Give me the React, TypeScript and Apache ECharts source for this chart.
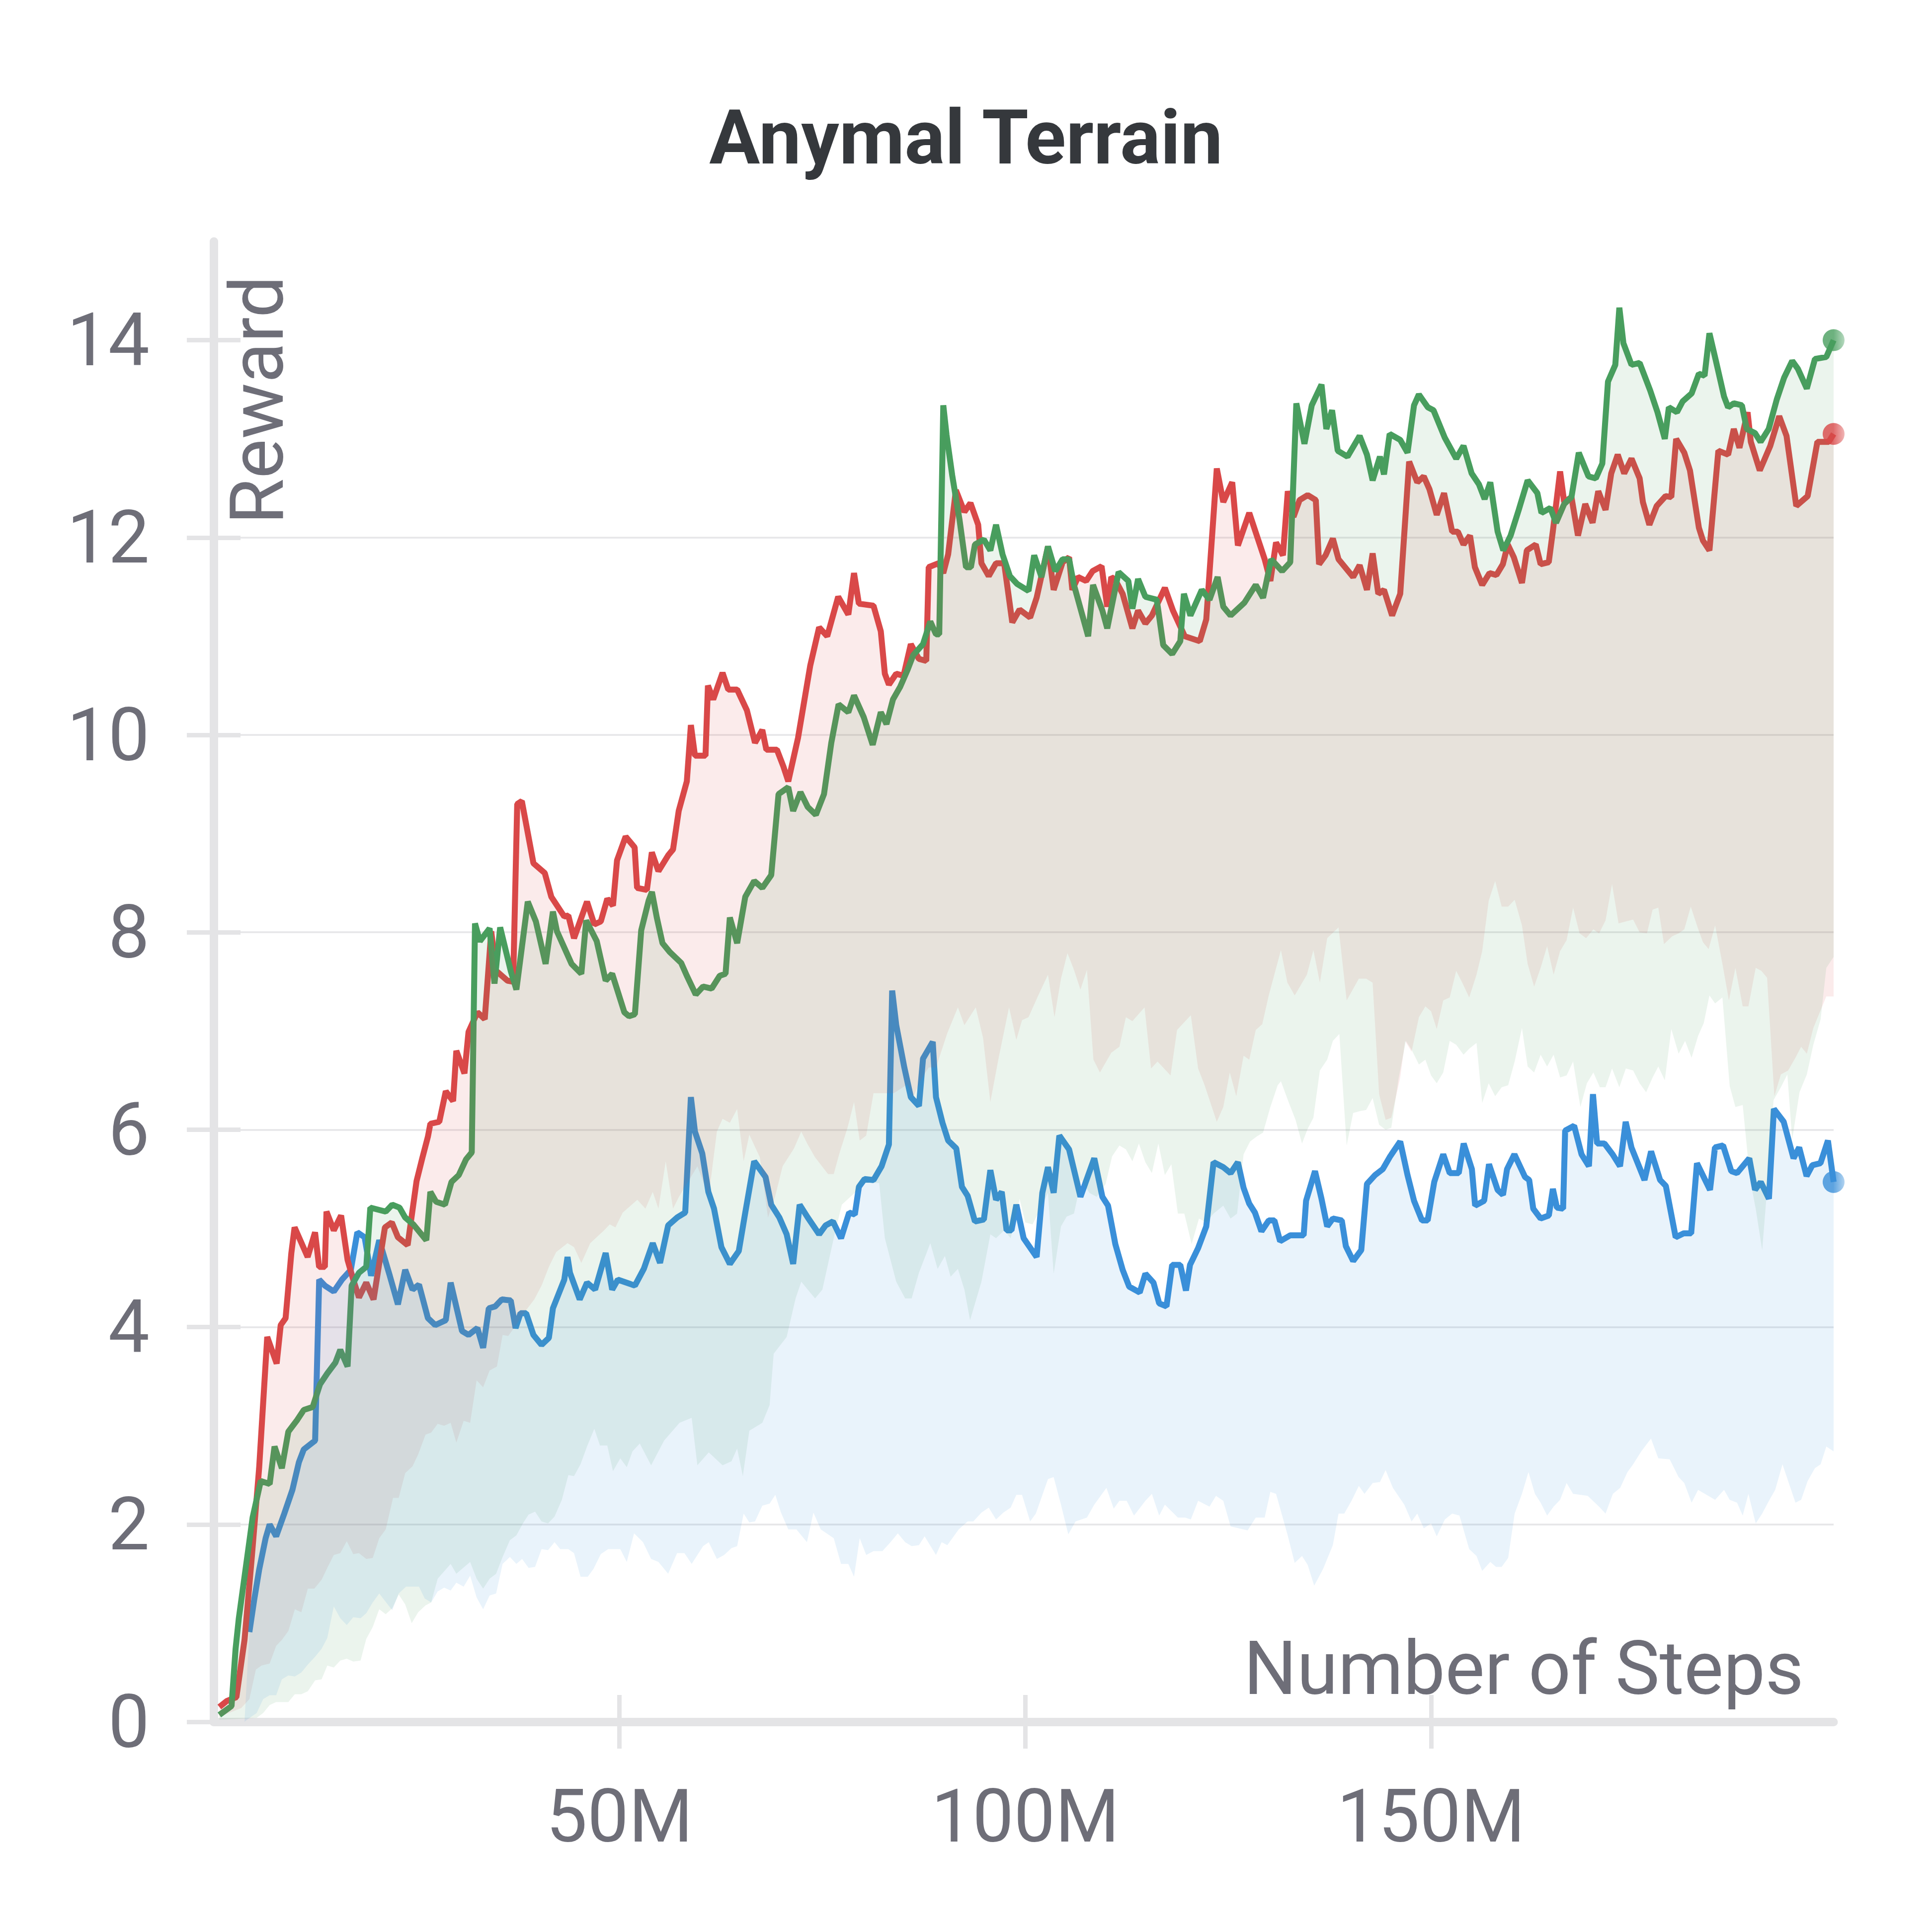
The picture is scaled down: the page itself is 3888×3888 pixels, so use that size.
import React, { useEffect, useRef } from 'react';
import * as echarts from 'echarts';

const RED = '#D94848';
const GREEN = '#489E5E';
const BLUE = '#3A8FD9';
const AXIS = '#E4E4E6';
const GRIDLINE = '#E6E6E8';
const LABEL = '#6E6E78';
const TITLE = '#35383C';
const FONT = 'Roboto, "Noto Sans", sans-serif';

const X_MAX = 199.6;
const xTicks = [50, 100, 150];
const yTicks = [0, 2, 4, 6, 8, 10, 12, 14];

const redLine = [
  [0.7,0.15],[1.6,0.21],[2.8,0.25],[3.8,0.83],[4.7,1.67],[5.6,2.57],[6.6,3.9],[7.76,3.63],[8.26,4.02],[8.86,4.09],[9.57,4.75],[9.97,5.01],[11.58,4.71],[12.49,4.96],[12.99,4.61],[13.7,4.61],[13.9,5.17],[14.8,4.98],[15.7,5.13],[16.5,4.68],[17.2,4.48],[17.9,4.3],[18.8,4.45],[19.7,4.28],[21.1,5.01],[21.95,5.06],[22.7,4.91],[23.9,4.83],[25.0,5.48],[25.7,5.71],[26.4,5.93],[26.7,6.06],[27.8,6.08],[28.6,6.39],[29.5,6.29],[29.9,6.8],[30.9,6.57],[31.4,6.99],[32.5,7.19],[33.4,7.12],[34.2,8.01],[34.8,7.61],[36.2,7.51],[36.9,7.5],[37.4,9.3],[37.97,9.33],[39.4,8.7],[40.8,8.6],[41.6,8.36],[43.2,8.16],[43.7,8.17],[44.4,7.94],[46.0,8.31],[46.9,8.08],[47.7,8.11],[48.5,8.34],[49.2,8.27],[49.7,8.73],[50.76,8.97],[51.87,8.86],[52.17,8.45],[53.38,8.43],[53.99,8.81],[54.8,8.62],[56.0,8.78],[56.6,8.84],[57.3,9.23],[58.3,9.53],[58.8,10.1],[59.3,9.79],[60.6,9.79],[60.9,10.5],[61.55,10.36],[62.7,10.63],[63.4,10.46],[64.5,10.46],[65.7,10.25],[66.7,9.92],[67.6,10.05],[68.1,9.85],[69.4,9.85],[70.2,9.68],[70.8,9.53],[72.0,9.97],[73.5,10.7],[74.6,11.09],[75.6,11.0],[76.95,11.4],[78.2,11.22],[78.9,11.64],[79.5,11.33],[81.3,11.31],[82.2,11.05],[82.7,10.62],[83.2,10.51],[84.1,10.62],[85.0,10.6],[85.9,10.92],[86.9,10.77],[87.8,10.75],[88.1,11.7],[89.3,11.74],[89.9,11.64],[90.5,11.83],[91.45,12.48],[92.5,12.26],[93.25,12.35],[94.2,12.13],[94.6,11.74],[95.5,11.61],[96.4,11.74],[97.4,11.74],[98.4,11.14],[99.3,11.27],
  [100.6,11.19],[101.4,11.39],[102.8,11.91],[103.5,11.47],[104.6,11.75],[105.4,11.8],[105.8,11.47],[106.5,11.6],[107.5,11.56],[108.3,11.66],[109.4,11.71],[110.1,11.3],[110.6,11.6],[111.1,11.57],[112.0,11.43],[113.2,11.08],[113.9,11.26],[114.8,11.13],[115.6,11.21],[117.2,11.49],[118.2,11.26],[119.65,11.0],[121.5,10.95],[122.3,11.17],[123.6,12.7],[124.4,12.36],[125.5,12.56],[126.2,11.92],[127.6,12.25],[129.5,11.78],[130.2,11.56],[130.9,11.95],[131.75,11.82],[132.35,12.47],[133.05,12.21],[133.8,12.38],[134.8,12.43],[135.8,12.38],[136.2,11.73],[137.0,11.82],[137.9,11.99],[138.6,11.78],[140.4,11.6],[141.2,11.72],[142.1,11.47],[142.8,11.84],[143.5,11.43],[144.2,11.47],[145.2,11.21],[146.2,11.43],[147.3,12.77],[148.3,12.56],
  [149.1,12.62],[149.8,12.49],[150.7,12.23],[151.6,12.45],[152.6,12.06],[153.3,12.06],[154.0,11.93],[154.8,12.02],[155.4,11.7],[156.3,11.52],[157.2,11.64],[158.05,11.62],[158.85,11.73],[159.45,11.93],[160.2,11.8],[161.2,11.54],[161.8,11.87],[162.9,11.93],[163.5,11.73],[164.5,11.75],[165.0,12.06],[165.9,12.67],[166.4,12.36],[167.3,12.41],[168.1,12.02],[169.0,12.34],[169.9,12.15],[170.6,12.47],[171.5,12.28],[172.2,12.65],[173.0,12.84],[173.8,12.65],[174.7,12.8],[175.7,12.6],[176.1,12.36],[176.9,12.13],[177.8,12.32],[178.9,12.42],[179.6,12.41],[180.2,13.0],[181.2,12.86],[181.9,12.68],[183.0,12.1],[183.5,11.97],[184.3,11.87],[185.4,12.88],[186.6,12.84],[187.3,13.1],[188.0,12.91],[189.0,13.27],[189.4,12.97],[190.5,12.68],[191.8,12.93],[192.9,13.23],[193.8,13.03],[195.0,12.32],[196.4,12.42],[197.6,12.97],[199.0,12.97],[199.6,13.05]
];

const greenLine = [
  [0.7,0.07],[2.2,0.16],[2.7,0.74],[3.1,1.05],[4.8,2.07],[5.8,2.44],[6.9,2.41],[7.5,2.79],[8.4,2.57],[9.2,2.94],[10.3,3.06],[11.1,3.16],[12.2,3.19],[13.1,3.42],[14.0,3.53],[15.0,3.64],[15.6,3.77],[16.5,3.6],[17.0,4.42],[17.9,4.55],[18.8,4.61],[19.3,5.21],[21.2,5.17],[22.0,5.24],[22.9,5.21],[23.6,5.11],[24.6,5.04],[26.2,4.88],[26.7,5.37],[27.4,5.27],[28.5,5.24],[29.3,5.47],[30.2,5.54],[31.1,5.7],[31.8,5.77],[32.2,8.09],[32.8,7.91],[34.0,8.04],[34.6,7.48],[35.3,8.05],[36.6,7.61],[37.3,7.42],[38.7,8.31],[39.7,8.11],[40.9,7.68],[41.8,8.21],[42.3,8.01],[44.1,7.68],[45.3,7.58],[45.9,8.12],[47.2,7.91],[48.3,7.51],[49.1,7.58],[50.6,7.19],[51.17,7.15],[51.9,7.17],[52.68,8.02],[53.59,8.32],[54.0,8.41],[54.6,8.15],[55.3,7.89],[56.2,7.8],[57.6,7.69],[58.3,7.56],[59.4,7.37],[60.3,7.45],[61.35,7.43],[62.36,7.56],[63.07,7.58],[63.6,8.15],[64.5,7.89],[65.5,8.36],[66.6,8.52],[67.6,8.45],[68.7,8.58],[69.6,9.4],[70.8,9.47],[71.4,9.23],[72.3,9.42],[73.2,9.27],[74.2,9.19],[75.2,9.4],[76.1,9.92],[77.0,10.31],[78.2,10.23],[78.9,10.4],[80.1,10.18],[81.2,9.9],[82.2,10.23],[82.9,10.11],[83.7,10.36],[84.6,10.49],[85.5,10.66],[86.2,10.81],[87.4,10.92],[88.3,11.15],[89.0,11.02],[89.4,11.02],[89.9,13.34],[90.3,13.04],[91.0,12.63],[91.9,12.18],[92.7,11.7],[93.3,11.7],[93.8,11.93],[94.9,11.98],[95.7,11.87],[96.4,12.13],[97.2,11.83],[98.1,11.61],[99.0,11.53],
  [100.4,11.46],[101.1,11.82],[102.0,11.6],[102.8,11.91],[103.7,11.66],[104.6,11.78],[105.4,11.78],[106.0,11.52],[107.75,11.0],[108.35,11.52],[109.5,11.26],[110.1,11.08],[111.5,11.65],[112.7,11.56],[113.2,11.28],[113.9,11.58],[114.8,11.4],[116.2,11.37],[117.0,10.91],[118.1,10.82],[119.1,10.95],[119.55,11.43],[120.35,11.21],[121.75,11.47],[122.7,11.37],[123.7,11.6],[124.4,11.3],[125.3,11.21],[127.0,11.34],[128.4,11.52],[129.3,11.39],[130.3,11.78],[131.65,11.66],[132.65,11.75],[133.4,13.36],[134.4,12.95],[135.3,13.34],[136.5,13.55],[137.1,13.1],[137.8,13.29],[138.5,12.88],[139.7,12.82],[141.2,13.03],[142.1,12.84],[142.8,12.58],[143.7,12.82],[144.2,12.64],[144.9,13.05],[146.2,12.99],[147.1,12.86],[147.9,13.34],[148.5,13.45],
  [149.6,13.32],[150.3,13.29],[151.7,13.01],[153.1,12.8],[154.0,12.93],[155.0,12.65],[155.9,12.54],[156.6,12.39],[157.3,12.56],[158.2,12.06],[158.9,11.87],[159.8,12.02],[160.8,12.28],[161.9,12.58],[163.1,12.45],[163.6,12.25],[164.7,12.3],[165.4,12.15],[166.4,12.34],[167.3,12.41],[168.2,12.86],[169.4,12.62],[170.3,12.6],[171.1,12.75],[171.8,13.58],[172.7,13.75],[173.2,14.33],[173.7,13.97],[174.7,13.75],[175.7,13.77],[177.0,13.49],[177.9,13.27],[178.8,13.0],[179.3,13.32],[180.3,13.27],[181.0,13.38],[182.1,13.46],[183.0,13.66],[183.7,13.64],[184.3,14.07],[185.1,13.79],[186.1,13.43],[186.6,13.32],[187.3,13.36],[188.3,13.34],[188.9,13.1],[189.9,13.06],[190.6,12.97],[191.6,13.1],[192.6,13.4],[193.5,13.62],[194.5,13.79],[195.2,13.71],[196.3,13.51],[197.3,13.81],[198.7,13.83],[199.6,14.0]
];

const blueLine = [
  [4.4,0.91],[5.0,1.24],[5.6,1.54],[6.4,1.86],[6.9,2.0],[7.7,1.88],[8.7,2.11],[9.7,2.35],[10.5,2.63],[11.1,2.76],[12.5,2.85],[13.0,4.48],[13.7,4.42],[14.8,4.36],[15.8,4.48],[16.9,4.58],[17.7,4.96],[18.6,4.91],[19.4,4.52],[20.4,4.88],[21.7,4.52],[22.7,4.23],[23.6,4.58],[24.5,4.38],[25.3,4.43],[26.4,4.09],[27.3,4.02],[28.6,4.07],[29.2,4.45],[30.6,3.96],[31.4,3.92],[32.5,3.99],[33.2,3.79],[33.9,4.19],[34.7,4.21],[35.5,4.28],[36.6,4.27],[37.2,3.99],[37.8,4.14],[38.5,4.14],[39.4,3.92],[40.4,3.82],[41.3,3.89],[41.8,4.19],[43.2,4.48],[43.6,4.71],[43.9,4.55],[45.1,4.28],[46.0,4.45],[47.0,4.38],[48.3,4.75],[49.1,4.38],[49.8,4.48],[51.9,4.42],[53.0,4.59],[54.1,4.85],[55.0,4.65],[56.0,5.03],[57.1,5.11],[58.1,5.16],[58.8,6.33],[59.3,5.98],[60.2,5.76],[60.95,5.37],[61.65,5.2],[62.56,4.81],[63.6,4.64],[64.7,4.77],[65.5,5.16],[66.6,5.68],[68.0,5.52],[68.7,5.24],[69.7,5.11],[70.6,4.94],[71.4,4.64],[72.2,5.24],[73.2,5.11],[74.6,4.94],[75.4,5.03],[76.3,5.07],[77.3,4.9],[78.3,5.16],[79.0,5.14],[79.5,5.42],[80.2,5.5],[81.3,5.49],[82.3,5.63],[83.2,5.85],[83.6,7.41],[84.1,7.06],[85.1,6.63],[85.9,6.33],[86.9,6.24],[87.4,6.72],[88.6,6.89],[89.0,6.33],[89.8,6.07],[90.5,5.89],[91.5,5.81],[92.2,5.42],[92.9,5.33],[93.8,5.07],[94.9,5.09],[95.7,5.59],[96.4,5.29],[97.1,5.37],[97.7,4.98],[98.3,4.98],[98.9,5.24],[99.8,4.9],
  [101.4,4.71],[102.1,5.36],[102.8,5.62],[103.5,5.36],[104.2,5.94],[105.4,5.8],[106.8,5.32],[108.5,5.71],[109.5,5.32],[110.2,5.23],[111.1,4.84],[112.0,4.58],[112.8,4.41],[114.1,4.35],[114.8,4.54],[115.8,4.45],[116.5,4.24],[117.4,4.21],[118.1,4.63],[119.1,4.63],[119.8,4.37],[120.3,4.63],[121.3,4.8],[122.3,5.02],[123.2,5.67],[124.4,5.62],[125.3,5.56],[126.2,5.67],[126.9,5.41],[127.6,5.25],[128.3,5.16],[129.1,4.97],[130.0,5.08],[130.7,5.08],[131.4,4.87],[132.66,4.93],[133.57,4.93],[134.3,4.93],[134.6,5.28],[135.7,5.58],[136.5,5.3],[137.2,5.02],[137.9,5.1],[139.0,5.08],[139.5,4.82],[140.4,4.67],[141.4,4.78],[142.1,5.45],[143.1,5.54],[144.05,5.6],[144.96,5.73],[146.2,5.88],[147.1,5.54],[147.9,5.28],
  [148.88,5.08],[149.58,5.08],[150.39,5.47],[151.5,5.75],[152.3,5.56],[153.41,5.56],[154.02,5.86],[155.03,5.6],[155.43,5.23],[156.54,5.28],[157.14,5.65],[158.2,5.39],[158.86,5.34],[159.36,5.6],[160.27,5.75],[161.58,5.52],[162.09,5.49],[162.59,5.2],[163.5,5.1],[164.51,5.13],[165.01,5.4],[165.51,5.21],[166.27,5.2],[166.52,5.99],[167.63,6.04],[168.54,5.75],[169.45,5.63],[169.95,6.36],[170.46,5.86],[171.36,5.86],[172.37,5.75],[173.28,5.63],[173.98,6.08],[174.69,5.82],[176.3,5.49],[177.11,5.78],[178.22,5.49],[178.93,5.43],[180.14,4.91],[181.14,4.95],[182.05,4.95],[182.76,5.66],[184.37,5.39],[184.98,5.82],[185.98,5.84],[186.99,5.58],[187.7,5.56],[189.21,5.71],[189.92,5.39],[190.62,5.47],[191.63,5.3],[192.24,6.21],[193.45,6.08],[194.66,5.71],[195.36,5.82],[196.27,5.53],[196.98,5.64],[197.98,5.66],[198.9,5.89],[199.6,5.47]
];

const redLower = [
  [0.7,0.05],[3.4,0.14],[4.4,0.23],[5.2,0.53],[5.9,0.57],[6.9,0.59],[7.7,0.77],[8.4,0.83],[9.2,0.92],[10.0,1.14],[10.8,1.11],[11.6,1.35],[12.4,1.35],[13.3,1.44],[14.0,1.56],[14.8,1.69],[15.6,1.71],[16.4,1.83],[17.2,1.7],[17.9,1.71],[18.8,1.65],[19.6,1.66],[20.4,1.86],[21.2,1.95],[22.1,2.27],[22.8,2.27],[23.6,2.52],[24.5,2.59],[25.2,2.71],[26.1,2.91],[26.8,2.93],[27.6,3.02],[28.4,3.0],[29.2,3.03],[29.9,2.83],[30.8,3.05],[31.6,3.03],[32.4,3.46],[33.2,3.39],[34.0,3.56],[34.9,3.6],[35.6,3.92],[36.3,3.91],[37.0,3.99],[38.3,4.15],[39.5,4.28],[40.4,4.42],[41.3,4.61],[42.2,4.76],[43.6,4.85],[44.4,4.81],[45.3,4.65],[46.4,4.85],[48.1,4.98],[48.8,5.04],[49.5,5.01],[50.4,5.16],[52.2,5.29],[53.2,5.2],[54.1,5.37],[54.8,5.2],[55.7,5.68],[56.6,5.2],[57.4,5.33],[59.6,5.63],[61.0,5.33],[62.0,5.98],[62.7,6.11],[63.6,6.07],[64.5,6.21],[65.3,5.68],[66.0,5.95],[67.3,5.72],[68.3,5.11],[69.2,5.33],[70.1,5.63],[71.5,5.81],[72.4,5.98],[73.2,5.85],[74.1,5.72],[75.7,5.55],[76.4,5.55],[77.1,5.76],[78.1,6.02],[78.9,6.28],[79.6,5.89],[80.4,5.94],[81.3,6.37],[82.4,6.37],[83.8,6.37],[85.5,6.46],[86.2,6.33],[87.1,6.5],[88.1,6.63],[89.0,6.63],[90.4,6.98],[91.7,7.24],[92.5,7.06],[93.9,7.24],[94.8,6.93],[95.7,6.28],[96.7,6.72],[98.0,7.24],[98.9,6.91],[99.6,7.11],[100.4,7.14],[101.6,7.36],[102.8,7.57],[103.6,7.14],[104.4,7.53],[105.2,7.79],[106.0,7.62],[106.8,7.42],[107.6,7.62],[108.4,6.71],[109.2,6.58],[110.6,6.78],[111.6,6.84],[112.4,7.14],[113.2,7.1],[114.7,7.24],[115.5,6.62],[116.3,6.69],[117.9,6.55],[118.7,7.01],[120.4,7.16],[121.3,6.62],[122.1,6.45],[123.6,6.08],[124.4,6.23],[125.2,6.58],[126.0,6.34],[126.9,6.75],[127.6,6.71],[128.4,7.01],[129.2,7.07],[130.0,7.36],[131.5,7.82],[132.3,7.49],[133.2,7.36],[134.7,7.57],[135.5,7.82],[136.3,7.49],[137.2,7.94],[138.6,8.05],[139.6,7.31],[141.1,7.53],[142.0,7.53],[142.8,7.49],[143.6,6.36],[144.4,6.1],[145.1,6.12],[146.2,6.53],[146.8,6.9],[147.6,6.79],[148.5,7.14],[149.3,7.25],[150.0,7.2],[150.7,7.02],[151.5,7.31],[152.3,7.34],[153.1,7.61],[153.9,7.48],[154.7,7.34],[155.6,7.57],[156.3,7.81],[157.1,8.32],[157.9,8.52],[158.7,8.26],[159.5,8.26],[160.3,8.33],[161.2,8.07],[161.9,7.68],[162.7,7.45],[163.5,7.64],[164.3,7.86],[165.1,7.57],[165.9,7.81],[166.7,7.92],[167.5,8.25],[168.3,7.99],[169.1,7.94],[170.0,8.03],[170.7,7.99],[171.5,8.12],[172.3,8.49],[173.1,8.09],[174.9,8.13],[175.7,8.0],[176.6,7.99],[177.3,8.23],[178.0,8.25],[178.7,7.88],[179.7,7.96],[180.5,7.99],[181.2,8.03],[182.0,8.26],[182.8,8.06],[183.5,7.9],[184.2,7.83],[185.0,8.07],[185.9,7.68],[186.7,7.31],[187.5,7.64],[188.4,7.25],[189.1,7.25],[190.0,7.64],[190.7,7.61],[191.4,7.54],[192.3,6.34],[193.1,6.56],[194.0,6.6],[194.9,6.73],[195.6,6.84],[196.3,6.77],[197.1,7.03],[198.0,7.21],[198.7,7.35],[199.6,7.35]
];

const greenLower = [
  [0.7,0.02],[5.3,0.04],[6.1,0.09],[6.9,0.17],[7.7,0.2],[9.2,0.2],[10.0,0.28],[10.8,0.28],[11.6,0.31],[12.5,0.42],[13.3,0.43],[14.0,0.57],[14.8,0.55],[15.6,0.62],[16.4,0.64],[17.2,0.61],[18.1,0.62],[18.8,0.84],[19.6,0.96],[20.4,1.14],[21.2,1.09],[22.0,1.15],[22.8,1.29],[23.6,1.19],[24.4,1.0],[25.2,1.11],[26.1,1.18],[26.8,1.21],[27.6,1.45],[29.2,1.6],[29.9,1.5],[31.6,1.62],[32.4,1.45],[33.2,1.35],[34.0,1.45],[34.8,1.5],[35.6,1.67],[36.5,1.84],[37.3,1.89],[38.1,2.01],[38.8,2.1],[39.6,2.13],[40.4,2.03],[41.2,2.01],[42.0,2.08],[42.9,2.25],[43.7,2.5],[44.4,2.49],[45.2,2.61],[46.0,2.79],[46.9,2.97],[47.6,2.8],[48.5,2.8],[49.2,2.54],[50.1,2.67],[50.9,2.58],[51.6,2.74],[52.5,2.82],[53.9,2.6],[55.5,2.85],[57.4,3.03],[58.9,3.08],[59.6,2.6],[61.0,2.73],[62.7,2.6],[63.8,2.64],[64.5,2.77],[65.2,2.49],[66.0,2.95],[67.6,3.03],[68.5,3.21],[69.0,3.73],[70.6,3.9],[71.7,4.29],[72.4,4.46],[73.2,4.38],[74.1,4.29],[75.0,4.38],[76.4,4.9],[77.4,5.24],[80.3,5.46],[82.0,5.46],[82.7,4.9],[84.1,4.46],[85.2,4.29],[86.0,4.29],[86.9,4.55],[88.3,4.85],[89.2,4.59],[90.1,4.72],[90.8,4.51],[91.7,4.59],[92.5,4.38],[93.2,4.07],[94.6,4.46],[95.7,4.94],[96.4,4.9],[97.4,4.98],[98.2,4.9],[99.3,5.3],[100.0,5.06],[100.9,5.04],[102.8,5.36],[103.5,4.54],[104.4,5.02],[105.1,5.12],[106.0,5.15],[106.9,5.49],[107.9,5.36],[108.8,5.32],[109.9,5.45],[110.7,5.73],[111.6,5.84],[112.4,5.8],[113.2,5.68],[114.0,5.86],[114.8,5.67],[115.6,5.56],[116.4,5.86],[117.2,5.54],[118.0,5.65],[118.8,5.15],[119.6,5.15],[120.5,4.84],[121.4,5.1],[122.3,5.06],[123.2,5.15],[124.4,5.23],[125.3,5.1],[126.1,5.15],[126.9,5.75],[127.7,5.88],[128.5,5.93],[129.3,5.97],[130.2,6.23],[131.1,6.45],[131.5,6.49],[132.4,6.29],[133.3,6.1],[134.1,5.86],[134.8,6.01],[135.5,6.12],[136.3,6.6],[137.2,6.71],[137.9,6.9],[138.7,6.97],[139.6,5.84],[140.4,6.17],[141.3,6.19],[142.0,6.2],[142.8,6.32],[143.6,6.05],[144.4,6.0],[145.1,6.02],[146.0,6.52],[146.9,6.9],[147.6,6.81],[148.5,6.66],[149.3,6.71],[150.0,6.55],[150.7,6.47],[151.5,6.58],[152.3,6.9],[153.1,6.86],[154.0,6.76],[154.7,6.82],[155.6,6.88],[156.3,6.27],[157.1,6.47],[157.9,6.34],[158.7,6.43],[159.5,6.45],[160.3,6.69],[161.2,7.03],[161.9,6.64],[162.7,6.58],[163.5,6.76],[164.3,6.64],[165.1,6.76],[165.9,6.53],[166.7,6.55],[167.5,6.69],[168.4,6.23],[169.2,6.47],[170.0,6.58],[170.8,6.43],[171.5,6.43],[172.3,6.62],[173.2,6.43],[174.0,6.62],[174.9,6.6],[175.7,6.47],[176.5,6.38],[177.3,6.53],[178.0,6.64],[178.8,6.5],[179.6,7.02],[180.5,6.77],[181.3,6.9],[182.1,6.73],[182.9,6.95],[183.6,7.08],[184.3,7.36],[185.0,7.28],[185.9,7.34],[186.8,6.44],[187.5,6.23],[188.4,6.25],[189.3,5.5],[190.0,5.2],[190.8,4.78],[191.6,5.6],[192.2,6.3],[193.1,6.43],[193.9,6.56],[194.5,5.9],[195.4,6.38],[196.3,6.56],[197.1,6.86],[198.0,7.12],[198.7,7.64],[199.6,7.75]
];

const blueLower = [
  [3.8,0.0],[4.1,0.02],[5.3,0.09],[6.1,0.23],[6.9,0.27],[7.7,0.27],[8.4,0.43],[9.2,0.47],[10.0,0.46],[10.8,0.5],[11.6,0.58],[12.5,0.66],[13.3,0.74],[14.0,0.85],[14.8,1.17],[15.6,1.05],[16.4,0.98],[17.2,1.06],[18.1,1.05],[18.8,1.1],[19.6,1.21],[20.4,1.3],[22.0,1.13],[22.8,1.3],[23.7,1.37],[24.5,1.37],[25.3,1.37],[26.0,1.25],[26.8,1.21],[27.6,1.32],[28.4,1.36],[29.2,1.33],[29.9,1.41],[30.8,1.37],[31.6,1.48],[32.4,1.26],[33.2,1.14],[34.0,1.28],[34.8,1.3],[35.6,1.6],[36.5,1.67],[37.3,1.6],[38.0,1.65],[38.8,1.56],[39.6,1.57],[40.4,1.75],[41.2,1.74],[42.0,1.82],[42.7,1.75],[43.7,1.75],[44.4,1.71],[45.2,1.47],[46.1,1.47],[46.8,1.55],[47.7,1.7],[48.6,1.75],[50.1,1.75],[50.9,1.62],[51.8,1.91],[52.9,1.82],[53.9,1.65],[54.8,1.62],[56.0,1.5],[57.1,1.71],[58.0,1.71],[58.9,1.6],[60.3,1.78],[61.0,1.82],[62.0,1.65],[62.9,1.69],[63.8,1.76],[64.5,1.78],[65.3,2.11],[66.0,2.02],[66.7,2.03],[67.6,2.19],[68.5,2.21],[69.2,2.3],[69.9,2.12],[70.8,1.95],[71.8,1.95],[73.1,1.82],[73.9,2.12],[74.8,1.95],[76.4,1.86],[77.3,1.6],[78.2,1.6],[78.9,1.47],[79.6,1.86],[80.4,1.69],[81.3,1.73],[82.4,1.73],[83.4,1.82],[84.3,1.91],[85.2,1.82],[86.0,1.78],[86.9,1.79],[87.6,1.88],[89.0,1.69],[89.7,1.82],[90.4,1.79],[91.8,1.95],[92.9,2.03],[93.6,2.03],[94.6,2.12],[95.5,2.17],[96.4,2.05],[97.3,2.12],[98.2,2.17],[98.9,2.3],[99.6,2.3],[100.6,2.03],[101.3,2.11],[102.8,2.46],[103.5,2.48],[104.4,2.2],[105.3,1.9],[106.2,2.03],[107.6,2.07],[108.5,2.2],[110.0,2.37],[110.9,2.16],[111.6,2.24],[112.5,2.24],[113.4,2.09],[114.8,2.24],[115.6,2.31],[116.5,2.09],[117.2,2.2],[118.8,2.07],[119.7,2.07],[120.4,2.05],[121.3,2.24],[122.7,2.18],[123.5,2.29],[124.4,2.24],[125.3,1.98],[127.4,1.94],[128.4,2.07],[129.5,2.07],[130.2,2.33],[130.9,2.31],[132.3,1.9],[133.2,1.61],[134.1,1.68],[134.8,1.59],[135.6,1.38],[136.7,1.55],[137.9,1.79],[138.6,2.11],[139.3,2.11],[140.2,2.24],[141.1,2.39],[141.8,2.31],[142.8,2.42],[143.7,2.43],[144.4,2.55],[145.3,2.37],[146.7,2.2],[147.6,2.03],[148.3,2.11],[149.1,1.96],[150.0,2.01],[150.7,1.88],[151.7,2.05],[152.6,2.11],[153.5,2.09],[154.7,1.75],[155.6,1.68],[156.3,1.53],[157.3,1.62],[158.0,1.57],[158.7,1.57],[159.5,1.66],[160.3,2.11],[161.2,2.31],[162.0,2.53],[162.8,2.31],[163.5,2.22],[164.3,2.09],[165.1,2.18],[165.9,2.25],[166.7,2.42],[167.5,2.31],[169.3,2.29],[170.7,2.18],[171.5,2.11],[172.4,2.31],[173.3,2.37],[174.2,2.53],[174.9,2.61],[175.9,2.74],[177.1,2.87],[178.0,2.67],[179.4,2.66],[180.5,2.48],[181.2,2.42],[182.1,2.22],[182.9,2.35],[185.0,2.25],[186.1,2.35],[186.8,2.25],[187.7,2.22],[188.4,2.09],[189.1,2.31],[190.0,2.01],[190.8,2.11],[191.7,2.25],[192.4,2.35],[193.3,2.61],[194.2,2.39],[194.9,2.22],[195.6,2.25],[196.4,2.44],[197.3,2.57],[198.0,2.61],[198.7,2.79],[199.6,2.74]
];

function rgba(hex: string, a: number) {
  const n = parseInt(hex.slice(1), 16);
  return `rgba(${(n >> 16) & 255},${(n >> 8) & 255},${n & 255},${a})`;
}

function bandSeries(upper: number[][], lower: number[][], color: string) {
  return {
    type: 'custom',
    data: upper,
    encode: { x: 0, y: 1 },
    z: 3,
    silent: true,
    clip: true,
    renderItem: (params: any, api: any) => {
      if (params.dataIndex !== 0) return null;
      const pts: number[][] = [];
      for (let i = 0; i < upper.length; i++) pts.push(api.coord(upper[i]));
      for (let i = lower.length - 1; i >= 0; i--) pts.push(api.coord(lower[i]));
      return {
        type: 'polygon',
        shape: { points: pts },
        style: { fill: rgba(color, 0.11), stroke: null },
        silent: true,
      };
    },
  };
}

function lineSeries(data: number[][], color: string) {
  return {
    type: 'line',
    data,
    showSymbol: false,
    symbol: 'none',
    z: 2,
    silent: true,
    lineStyle: { color, width: 12 },
  };
}

function marker(data: number[][], color: string) {
  return {
    value: data[data.length - 1],
    itemStyle: {
      color: new echarts.graphic.LinearGradient(0, 0, 1, 0, [
        { offset: 0, color },
        { offset: 0.5, color },
        { offset: 1, color: rgba(color, 0.5) },
      ]),
    },
  };
}

export default function App() {
  const ref = useRef<HTMLDivElement>(null);
  useEffect(() => {
    document.body.style.margin = '0';
    const chart = echarts.init(ref.current as HTMLDivElement, null, { renderer: 'svg' });
    const axisTickStyle = { color: AXIS, width: 9 };
    const option = {
      animation: false,
      backgroundColor: '#FFFFFF',
      title: {
        text: 'Anymal Terrain',
        left: 'center',
        top: 196,
        textStyle: { fontSize: 152, fontWeight: 'bold', color: TITLE, fontFamily: FONT },
      },
      grid: { left: 430, right: 198, top: 486, bottom: 423, containLabel: false },
      xAxis: [
        {
          type: 'value', min: 0, max: X_MAX, position: 'bottom',
          axisLine: { show: true, onZero: false, lineStyle: { color: AXIS, width: 17 } },
          axisTick: { show: true, length: 54, lineStyle: axisTickStyle, customValues: xTicks },
          axisLabel: { customValues: xTicks, formatter: (v: number) => v + 'M', color: LABEL, fontSize: 148, fontFamily: FONT, margin: 116 },
          splitLine: { show: false },
        },
        {
          type: 'value', min: 0, max: X_MAX, position: 'bottom',
          axisLine: { show: false },
          axisTick: { show: true, inside: true, length: 54, lineStyle: axisTickStyle, customValues: xTicks },
          axisLabel: { show: false },
          splitLine: { show: false },
        },
      ],
      yAxis: [
        {
          type: 'value', min: 0, max: 15, interval: 2, position: 'left',
          axisLine: { show: true, onZero: false, lineStyle: { color: AXIS, width: 17 } },
          axisTick: { show: true, length: 54, lineStyle: axisTickStyle, customValues: yTicks },
          axisLabel: { customValues: yTicks, color: LABEL, fontSize: 148, fontFamily: FONT, margin: 129 },
          splitLine: { show: true, showMaxLine: false, lineStyle: { color: GRIDLINE, width: 3.5 } },
        },
        {
          type: 'value', min: 0, max: 15, interval: 2, position: 'left',
          axisLine: { show: false },
          axisTick: { show: true, inside: true, length: 54, lineStyle: axisTickStyle, customValues: yTicks },
          axisLabel: { show: false },
          splitLine: { show: false },
        },
      ],
      graphic: [
        {
          type: 'text', x: 518, y: 555, rotation: Math.PI / 2, silent: true,
          style: { text: 'Reward', fill: LABEL, font: `150px ${FONT}`, align: 'right', verticalAlign: 'middle', textAlign: 'right', textVerticalAlign: 'middle' },
        },
        {
          type: 'text', x: 3630, y: 3358, silent: true,
          style: { text: 'Number of Steps', fill: LABEL, font: `150px ${FONT}`, align: 'right', verticalAlign: 'middle', textAlign: 'right', textVerticalAlign: 'middle' },
        },
      ],
      series: [
        lineSeries(blueLine, BLUE),
        lineSeries(redLine, RED),
        lineSeries(greenLine, GREEN),
        bandSeries(redLine, redLower, RED),
        bandSeries(greenLine, greenLower, GREEN),
        bandSeries(blueLine, blueLower, BLUE),
        {
          type: 'scatter',
          symbol: 'circle',
          symbolSize: 44,
          z: 10,
          silent: true,
          data: [marker(greenLine, GREEN), marker(redLine, RED), marker(blueLine, BLUE)],
        },
      ],
    };
    chart.setOption(option as any);
    return () => chart.dispose();
  }, []);
  return <div ref={ref} style={{ position: 'absolute', left: 0, top: 0, width: 3888, height: 3888 }} />;
}
